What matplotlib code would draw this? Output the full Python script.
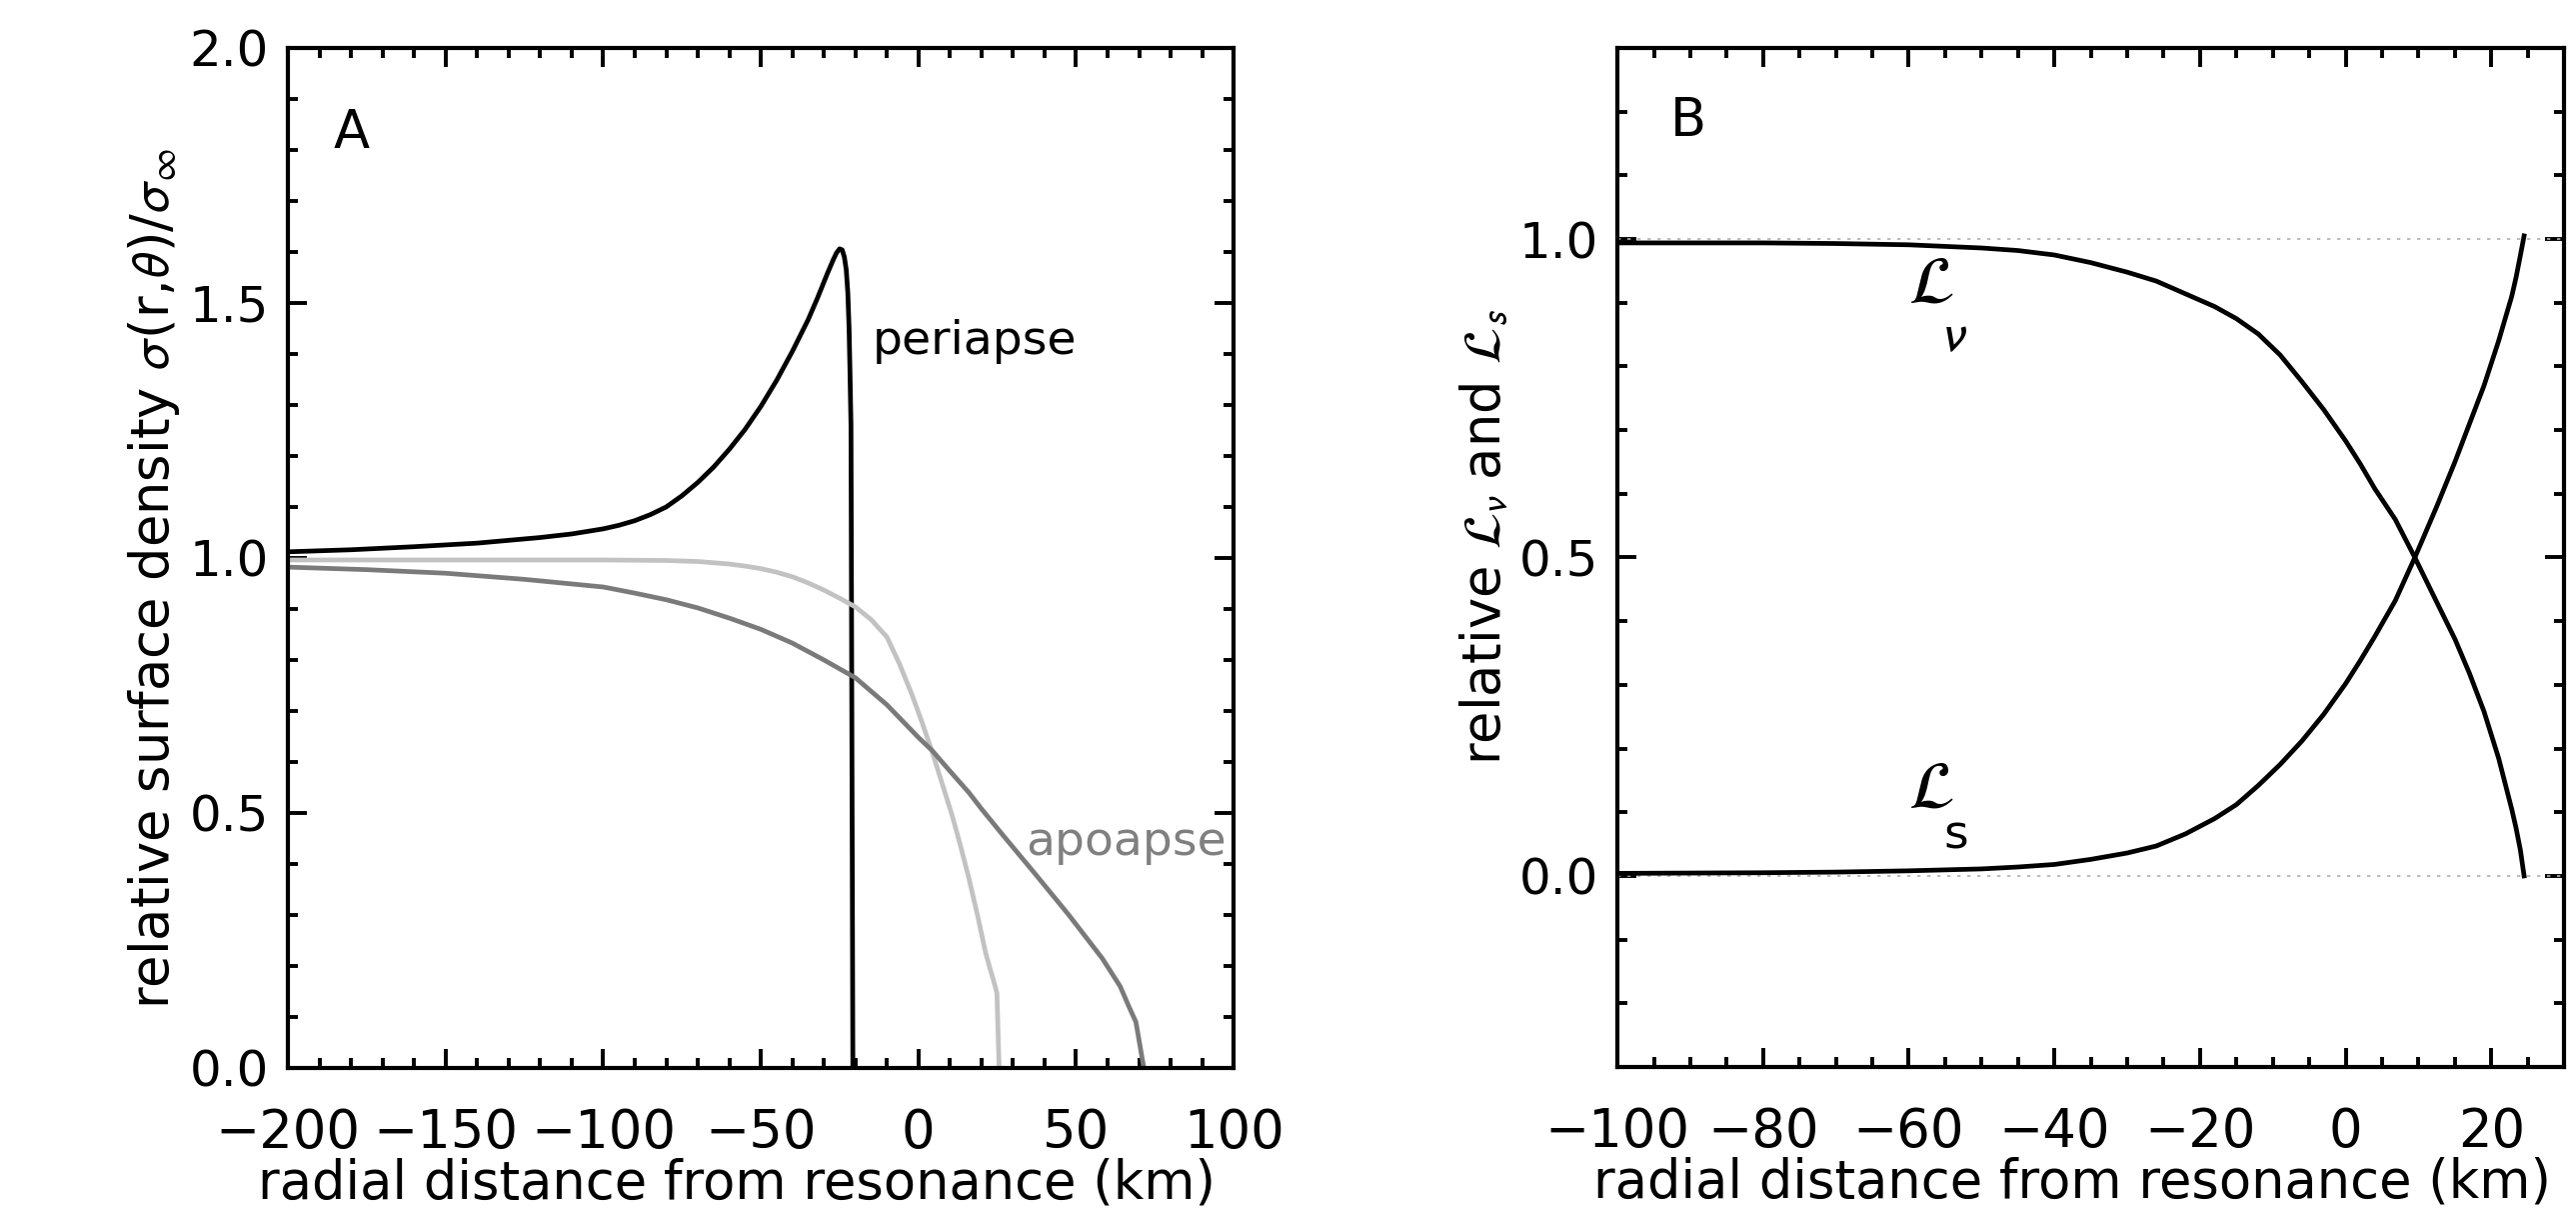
import matplotlib
matplotlib.use("Agg")
import matplotlib.pyplot as plt
from matplotlib.ticker import MultipleLocator

plt.rcParams['font.family'] = ['DejaVu Sans']
plt.rcParams['mathtext.fontset'] = 'stixsans'

# panel A: relative surface density vs radial distance (km)
peri_x = [-200, -180, -160, -140, -120, -110, -100, -95, -90, -85, -80, -75,
          -70, -65, -60, -55, -50, -45, -40, -35, -32, -29, -27, -26, -25,
          -24.2, -23.5, -22.9, -22.4, -22.0, -21.7, -21.4, -20.8]
peri_y = [1.012, 1.016, 1.022, 1.029, 1.040, 1.047, 1.057, 1.064, 1.073, 1.085,
          1.100, 1.122, 1.148, 1.178, 1.213, 1.252, 1.297, 1.348, 1.405, 1.467,
          1.510, 1.556, 1.585, 1.598, 1.606, 1.604, 1.590, 1.565, 1.520, 1.450,
          1.360, 1.260, 0.0]

mid_x = [-200, -100, -80, -70, -60, -55, -50, -45, -40, -35, -30, -25, -20,
         -15, -10, -6, -2, 1, 4.4, 7.5, 10.7, 13.5, 16, 18.8, 21.3, 22.7, 23.9,
         24.9, 25.6]
mid_y = [0.996, 0.996, 0.995, 0.993, 0.988, 0.984, 0.979, 0.972, 0.963, 0.951,
         0.937, 0.921, 0.904, 0.879, 0.845, 0.792, 0.731, 0.680, 0.619, 0.558,
         0.495, 0.432, 0.372, 0.298, 0.226, 0.195, 0.170, 0.147, 0.0]

apo_x = [-200, -175, -150, -125, -100, -90, -80, -70, -60, -50, -40, -30, -20,
         -10, -5, 0, 4.4, 10, 16, 20, 26.6, 37.1, 47.7, 58.3, 64, 66.8, 69,
         71.5]
apo_y = [0.982, 0.977, 0.970, 0.958, 0.943, 0.931, 0.918, 0.902, 0.882, 0.860,
         0.833, 0.800, 0.765, 0.712, 0.680, 0.648, 0.622, 0.582, 0.540, 0.508,
         0.458, 0.380, 0.300, 0.215, 0.160, 0.120, 0.090, 0.0]

# panel B: relative L_nu and L_s
lb_x = [-100, -80, -70, -60, -50, -45, -40, -35, -30, -26, -22, -18, -15, -12,
        -9, -6, -3, 0, 2, 4, 6.8, 9.5, 12.5, 15, 17, 19, 21, 22.8, 23.4, 24,
        24.5]
lnu_y = [0.994, 0.994, 0.993, 0.991, 0.986, 0.982, 0.975, 0.963, 0.948, 0.934,
         0.914, 0.894, 0.875, 0.851, 0.818, 0.776, 0.732, 0.683, 0.647, 0.608,
         0.560, 0.500, 0.430, 0.372, 0.318, 0.258, 0.185, 0.105, 0.075, 0.04,
         0.0]
ls_y = [0.004, 0.005, 0.006, 0.008, 0.011, 0.014, 0.018, 0.026, 0.036, 0.047,
        0.066, 0.090, 0.112, 0.142, 0.175, 0.212, 0.254, 0.302, 0.338, 0.376,
        0.432, 0.500, 0.580, 0.650, 0.710, 0.770, 0.840, 0.910, 0.940, 0.975,
        1.005]

FS = 38
LW = 3.4
fig = plt.figure(figsize=(25.77, 12.25), dpi=100)
axA = fig.add_axes([0.1118, 0.1282, 0.3671, 0.8327])
axB = fig.add_axes([0.6279, 0.1290, 0.3675, 0.8318])

for ax in (axA, axB):
    for s in ax.spines.values():
        s.set_linewidth(3)
    ax.tick_params(which='both', direction='in', top=True, right=True,
                   labelsize=FS, width=2.8)
    ax.tick_params(which='major', length=14, pad=14)
    ax.tick_params(which='minor', length=7)
    ax.tick_params(axis='x', which='major', pad=28)
    ax.tick_params(axis='y', which='major', labelsize=FS - 2)
    ax.set_xlabel("radial distance from resonance (km)", fontsize=FS)
axA.xaxis.set_label_coords(0.475, -0.088)
axB.xaxis.set_label_coords(0.48, -0.088)

axA.plot(peri_x, peri_y, color='black', lw=LW)
axA.plot(mid_x, mid_y, color='#c2c2c2', lw=LW)
axA.plot(apo_x, apo_y, color='#7a7a7a', lw=LW)
axA.set_xlim(-200, 100)
axA.set_ylim(0, 2.0)
axA.xaxis.set_major_locator(MultipleLocator(50))
axA.xaxis.set_minor_locator(MultipleLocator(10))
axA.yaxis.set_major_locator(MultipleLocator(0.5))
axA.yaxis.set_minor_locator(MultipleLocator(0.1))
axA.yaxis.set_major_formatter('{x:.1f}')
axA.text(0.067, 0.917, "A", transform=axA.transAxes, fontsize=FS,
         ha='center', va='center')
axA.text(-14.7, 1.424, "periapse", fontsize=FS - 4, ha='left', va='center')
axA.text(34.1, 0.442, "apoapse", fontsize=FS - 4, ha='left', va='center',
         color='#808080')
axA.set_ylabel(r"relative surface density $\boldsymbol{\sigma}$(r,$\boldsymbol{\theta}$)/$\boldsymbol{\sigma}_{\infty}$",
               fontsize=FS)
axA.yaxis.set_label_coords(-0.112, 0.48)

axB.axhline(1.0, color='#b0b0b0', lw=1.2, ls=(0, (2, 4)))
axB.axhline(0.0, color='#b0b0b0', lw=1.2, ls=(0, (2, 4)))
axB.plot(lb_x, lnu_y, color='black', lw=LW)
axB.plot(lb_x, ls_y, color='black', lw=LW)
axB.set_xlim(-100, 30)
axB.set_ylim(-0.3, 1.3)
axB.xaxis.set_major_locator(MultipleLocator(20))
axB.xaxis.set_minor_locator(MultipleLocator(5))
axB.yaxis.set_major_locator(MultipleLocator(0.5))
axB.yaxis.set_minor_locator(MultipleLocator(0.1))
axB.yaxis.set_major_formatter('{x:.1f}')
axB.text(0.075, 0.928, "B", transform=axB.transAxes, fontsize=FS,
         ha='center', va='center')
axB.text(-60, 0.93, r"$\mathcal{L}$", fontsize=FS + 10, ha='left', va='center')
axB.text(-55.2, 0.848, r"$\nu$", fontsize=FS, ha='left', va='center')
axB.text(-60, 0.137, r"$\mathcal{L}$", fontsize=FS + 10, ha='left', va='center')
axB.text(-55.2, 0.062, "s", fontsize=FS - 4, ha='left', va='center')
axB.set_ylabel(r"relative $\mathcal{L}_\nu$ and $\mathcal{L}_s$", fontsize=FS)
axB.yaxis.set_label_coords(-0.112, 0.52)

fig.savefig("out.png", dpi=100)
